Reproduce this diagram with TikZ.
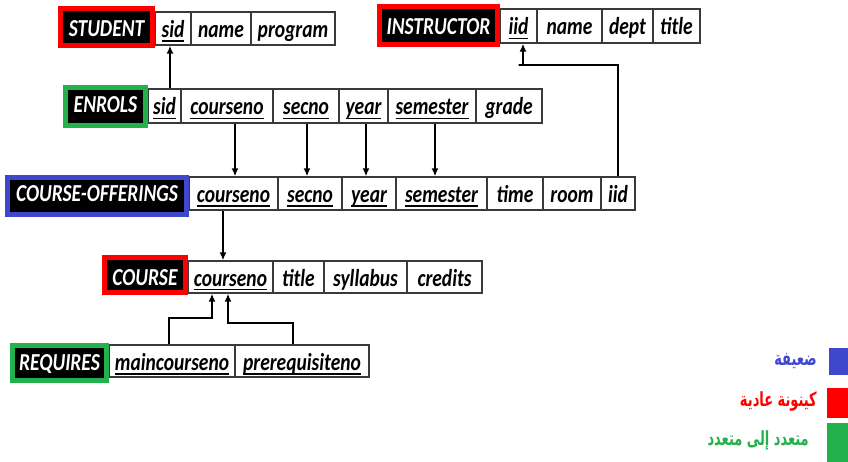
\documentclass[tikz,border=0pt]{standalone}
\usepackage{fontspec}
\usepackage{graphicx}
\setmainfont{Carlito}
\newfontfamily\arabicfont[Script=Arabic]{DejaVu Sans}
\usetikzlibrary{arrows.meta}
\TeXXeTstate=1
\definecolor{weakblue}{HTML}{3F48CC}
\definecolor{entred}{HTML}{FF0000}
\definecolor{mmgreen}{HTML}{22B14C}
\definecolor{gridline}{HTML}{3A3A3A}
% tall lettering used in the tables
\newcommand\tall[1]{\scalebox{1}[1.25]{#1}}
% underlined key attribute
\newcommand\ukey[1]{\setbox0\hbox{#1}\rlap{\rule[-3.6pt]{\wd0}{1.5pt}}\box0}
% attribute cell: name, x1, x2, y1, y2, text
\newcommand\attr[6]{\node[attrcell, minimum width={(#3-#2)*1pt}, minimum height={(#5-#4)*1pt}]
  (#1) at ({(#2+#3)/2},{(#4+#5)/2}) {\tall{#6}};}
% table header: [text height], name, colour, outer x1, x2, y1, y2, text
\newcommand\hdr[8][20pt]{\node[hdrcell, draw=#3, text height=#1,
    minimum width={(#5-#4-5)*1pt}, minimum height={(#7-#6-5)*1pt}]
  (#2) at ({(#4+#5)/2},{(#6+#7)/2}) {\tall{#8}};}
\tikzset{
  attrcell/.style={draw=gridline, line width=1.3pt, inner sep=0pt, fill=white,
    text height=19pt, text depth=1pt,
    font=\fontsize{19.5}{20}\selectfont\bfseries\itshape, text=black},
  hdrcell/.style={fill=black, line width=5pt, inner sep=0pt, text depth=0pt,
    font=\fontsize{19.5}{20}\selectfont\bfseries\itshape, text=white},
  fk/.style={line width=1.8pt, -{Latex[length=8pt,width=7pt]}},
  legtext/.style={anchor=east, inner sep=0pt, font=\fontsize{13}{14}\selectfont\arabicfont\bfseries},
  legbox/.style={inner sep=0pt, anchor=north west}
}
\begin{document}
\begin{tikzpicture}[x=1pt,y=-1pt]
\useasboundingbox (0,0) rectangle (848,462);
\fill[white] (0,0) rectangle (848,462);

% STUDENT
\attr{stu-sid}{155}{191}{12}{45}{\ukey{sid}}
\attr{stu-name}{191}{251}{12}{45}{name}
\attr{stu-prog}{251}{335}{12}{45}{program}
\hdr{stu}{entred}{58}{155}{6}{48}{STUDENT}

% INSTRUCTOR
\attr{ins-iid}{500}{537}{9}{43}{\ukey{iid}}
\attr{ins-name}{537}{602}{9}{43}{name}
\attr{ins-dept}{602}{653}{9}{43}{dept}
\attr{ins-title}{653}{700}{9}{43}{title}
\hdr[19pt]{ins}{entred}{377}{500}{4}{47}{INSTRUCTOR}

% ENROLS
\attr{enr-sid}{148}{181}{89}{123}{\ukey{sid}}
\attr{enr-cno}{181}{273}{89}{123}{\ukey{courseno}}
\attr{enr-sec}{273}{339}{89}{123}{\ukey{secno}}
\attr{enr-year}{339}{388}{89}{123}{\ukey{year}}
\attr{enr-sem}{388}{476}{89}{123}{\ukey{semester}}
\attr{enr-grade}{476}{542}{89}{123}{grade}
\hdr[13pt]{enr}{mmgreen}{63}{148}{85}{128}{ENROLS}

% COURSE-OFFERINGS
\attr{off-cno}{189}{278}{177}{210}{\ukey{courseno}}
\attr{off-sec}{278}{342}{177}{210}{\ukey{secno}}
\attr{off-year}{342}{396}{177}{210}{\ukey{year}}
\attr{off-sem}{396}{487}{177}{210}{\ukey{semester}}
\attr{off-time}{487}{543}{177}{210}{time}
\attr{off-room}{543}{601}{177}{210}{room}
\attr{off-iid}{601}{635}{177}{210}{iid}
\hdr[12pt]{off}{weakblue}{5}{189}{175}{217}{COURSE-OFFERINGS}

% COURSE
\attr{crs-cno}{188}{273}{261}{293}{\ukey{courseno}}
\attr{crs-title}{273}{324}{261}{293}{title}
\attr{crs-syl}{324}{407}{261}{293}{syllabus}
\attr{crs-cred}{407}{482}{261}{293}{credits}
\hdr{crs}{entred}{102}{188}{255}{295}{COURSE}

% REQUIRES
\attr{req-main}{109}{235}{345}{377}{\ukey{maincourseno}}
\attr{req-pre}{235}{369}{345}{377}{\ukey{prerequisiteno}}
\hdr[14pt]{req}{mmgreen}{10}{109}{343}{383}{REQUIRES}

% foreign keys
\draw[fk] ([xshift=5.5pt]enr-sid.north) -- ([xshift=5.5pt]enr-sid.north |- stu-sid.south);
\draw[fk] (off-iid.north) |- ([yshift=-21pt]ins-iid.south) coordinate (iidbend)
  -- ([xshift=4.5pt]ins-iid.south |- iidbend) -- ([xshift=4.5pt]ins-iid.south);
\draw[fk] ([xshift=8pt]enr-cno.south) -- ([xshift=8pt]enr-cno.south |- off-cno.north);
\draw[fk] ([xshift=1pt]enr-sec.south) -- ([xshift=1pt]enr-sec.south |- off-sec.north);
\draw[fk] ([xshift=2.5pt]enr-year.south) -- ([xshift=2.5pt]enr-year.south |- off-year.north);
\draw[fk] ([xshift=3pt]enr-sem.south) -- ([xshift=3pt]enr-sem.south |- off-sem.north);
\draw[fk] ([xshift=-10.5pt]off-cno.south) -- ([xshift=-10.5pt]off-cno.south |- crs-cno.north);
\draw[fk] ([xshift=-3pt]req-main.north) -- ++(0,-26) coordinate (mainbend)
  -- ([xshift=-18.5pt]crs-cno.south |- mainbend) -- ([xshift=-18.5pt]crs-cno.south);
\draw[fk] ([xshift=-9pt]req-pre.north) -- ++(0,-21) coordinate (prebend)
  -- ([xshift=-2.5pt]crs-cno.south |- prebend) -- ([xshift=-2.5pt]crs-cno.south);

% legend
\node[legbox, fill=weakblue, minimum width=19pt, minimum height=27pt] (keyweak) at (829,348) {};
\node[legbox, fill=entred, minimum width=21pt, minimum height=30pt] (keyent) at (827,388) {};
\node[legbox, fill=mmgreen, minimum width=21pt, minimum height=39pt] (keymm) at (827,423) {};
\node[legtext, text=weakblue] (lblweak) at (817,361) {\scalebox{1}[1.5]{\beginR ضعيفة\endR}};
\node[legtext, text=entred] (lblent) at (817,401) {\scalebox{1}[1.5]{\beginR كينونة عادية\endR}};
\node[legtext, text=mmgreen] (lblmm) at (809,440) {\scalebox{1}[1.5]{\beginR متعدد إلى متعدد\endR}};
\end{tikzpicture}
\end{document}
